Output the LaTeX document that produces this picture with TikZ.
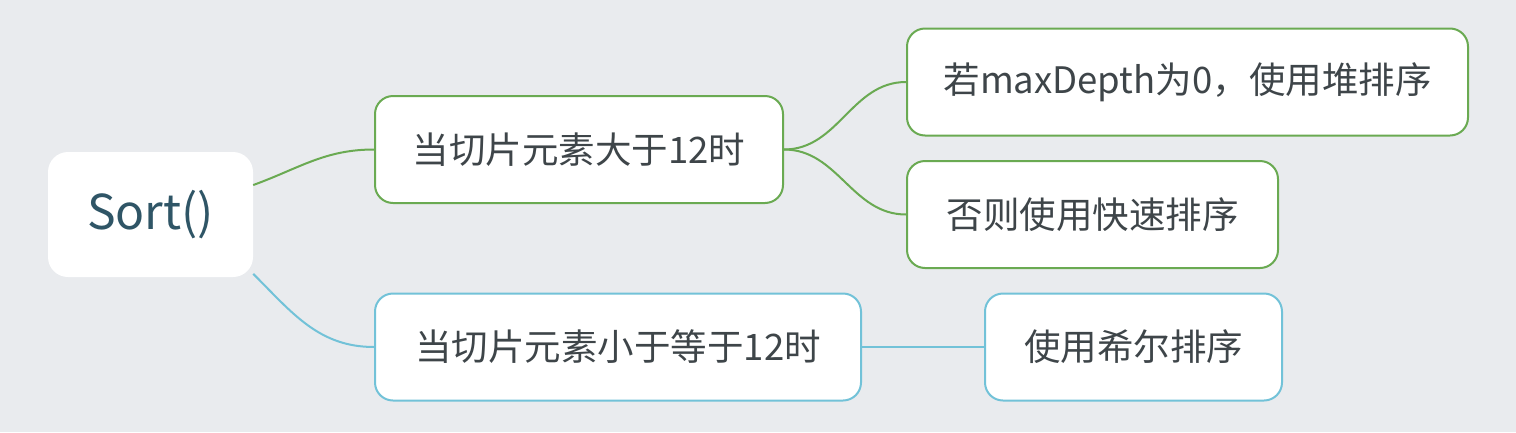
\documentclass[tikz,border=0pt]{standalone}
\usepackage{fontspec}
\setmainfont{Noto Sans CJK SC}
\definecolor{bggray}{HTML}{E9EBEE}
\definecolor{leafgreen}{HTML}{6AAA52}
\definecolor{leafblue}{HTML}{72C2D8}
\definecolor{inkgray}{HTML}{3E4549}
\definecolor{rootink}{HTML}{2F5566}
\tikzstyle{root}=[rectangle,rounded corners=20pt,fill=white,text=rootink,minimum width=205pt,minimum height=125pt,font=\fontsize{48}{56}\selectfont]
\tikzstyle{topic}=[rectangle,rounded corners=18pt,fill=white,line width=2pt,text=inkgray,minimum height=107pt,font=\fontsize{36.5}{42}\selectfont]
\tikzstyle{branch}=[draw,line width=2pt]
\begin{document}
\begin{tikzpicture}[x=1pt,y=-1pt]
  \fill[bggray] (0,0) rectangle (1516,432);
  % nodes
  \node[root] (sort) at (150.5,214.5) {Sort()};
  \node[topic,draw=leafgreen,minimum width=408pt] (big) at (579,149.5) {当切片元素大于12时};
  \node[topic,draw=leafgreen,minimum width=561pt] (heap) at (1187.5,82) {若maxDepth为0，使用堆排序};
  \node[topic,draw=leafgreen,minimum width=371pt] (quick) at (1092.5,214.5) {否则使用快速排序};
  \node[topic,draw=leafblue,minimum width=486pt] (small) at (618,347) {当切片元素小于等于12时};
  \node[topic,draw=leafblue,minimum width=297pt] (shell) at (1133.5,347) {使用希尔排序};
  % branches
  \path[branch,leafgreen] (sort.16) to[out=20,in=180] (big.west);
  \path[branch,leafgreen] (big.east) to[out=0,in=180] (heap.west);
  \path[branch,leafgreen] (big.east) to[out=0,in=180] (quick.west);
  \path[branch,leafblue] (sort.-30) to[out=-45,in=180] (small.west);
  \path[branch,leafblue] (small.east) -- (shell.west);
\end{tikzpicture}
\end{document}
